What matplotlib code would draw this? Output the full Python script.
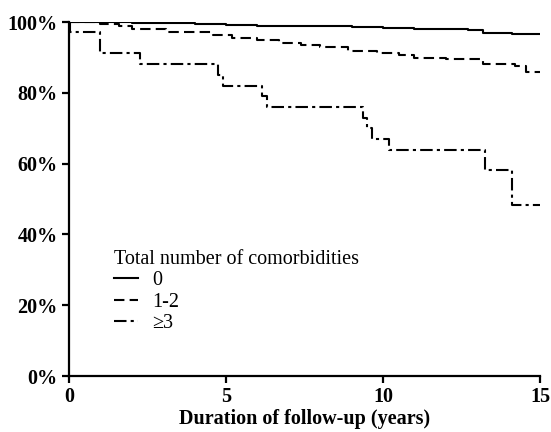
import matplotlib.pyplot as plt
from matplotlib.ticker import FuncFormatter

plt.rcParams['font.family'] = ['Liberation Serif', 'DejaVu Serif']

# survival curves (years, % event-free)
t_0 = [0, 1, 2, 3, 4, 5, 6, 7, 8, 9, 10, 11, 12, 12.7, 13.2, 14.1, 15]
s_0 = [100, 99.9, 99.8, 99.6, 99.4, 99.2, 99.0, 98.9, 98.8, 98.7, 98.4, 98.0, 97.9, 97.7, 97.0, 96.6, 96.6]

t_12 = [0, 1.0, 1.6, 2.0, 3.1, 4.6, 5.2, 6.0, 6.7, 7.4, 8.0, 8.9, 9.8, 10.5, 11.0, 12.0, 13.2, 14.2, 14.55, 15]
s_12 = [100, 99.4, 98.9, 98.0, 97.2, 96.3, 95.5, 94.8, 94.2, 93.6, 93.0, 91.8, 91.2, 90.7, 89.8, 89.5, 88.1, 87.6, 86.0, 86.0]

t_3 = [0, 0.05, 1.0, 2.25, 4.75, 4.9, 6.15, 6.3, 9.35, 9.5, 9.65, 10.2, 13.25, 14.1, 15]
s_3 = [100, 97.2, 91.2, 88.1, 85.0, 81.9, 79.0, 76.0, 73.0, 70.0, 67.0, 63.8, 58.2, 48.3, 48.3]

fig = plt.figure(figsize=(5.51, 4.32), dpi=100)
ax = fig.add_axes([0.125, 0.1296, 0.855, 0.8194])

ax.plot(t_0, s_0, color='black', linewidth=1.5, drawstyle='steps-post', label='0')
ax.plot(t_12, s_12, color='black', linewidth=1.5, drawstyle='steps-post',
        linestyle=(0, (5, 2.5)), label='1-2')
ax.plot(t_3, s_3, color='black', linewidth=1.5, drawstyle='steps-post',
        linestyle=(0, (6, 2, 1.5, 2)), label='≥3')

ax.set_xlim(0, 15)
ax.set_ylim(0, 100)
ax.set_xticks([0, 5, 10, 15])
ax.set_yticks([0, 20, 40, 60, 80, 100])
ax.yaxis.set_major_formatter(FuncFormatter(lambda v, p: f'{int(v)}%'))

for s in ['top', 'right']:
    ax.spines[s].set_visible(False)
for s in ['left', 'bottom']:
    ax.spines[s].set_linewidth(1.6)
ax.tick_params(direction='out', length=5, width=1.6, labelsize=14.5, pad=3)
for lab in ax.get_xticklabels() + ax.get_yticklabels():
    lab.set_fontweight('bold')

ax.set_xlabel('Duration of follow-up (years)', fontsize=14.5, fontweight='bold', labelpad=1.5)

leg = ax.legend(title='Total number of comorbidities', loc='upper left',
                bbox_to_anchor=(0.078, 0.38), frameon=False, fontsize=14.5,
                title_fontsize=14.5, handlelength=1.2, handletextpad=0.7,
                labelspacing=0.12, borderaxespad=0)
leg._legend_box.align = 'left'

plt.savefig('out.png', dpi=100)
